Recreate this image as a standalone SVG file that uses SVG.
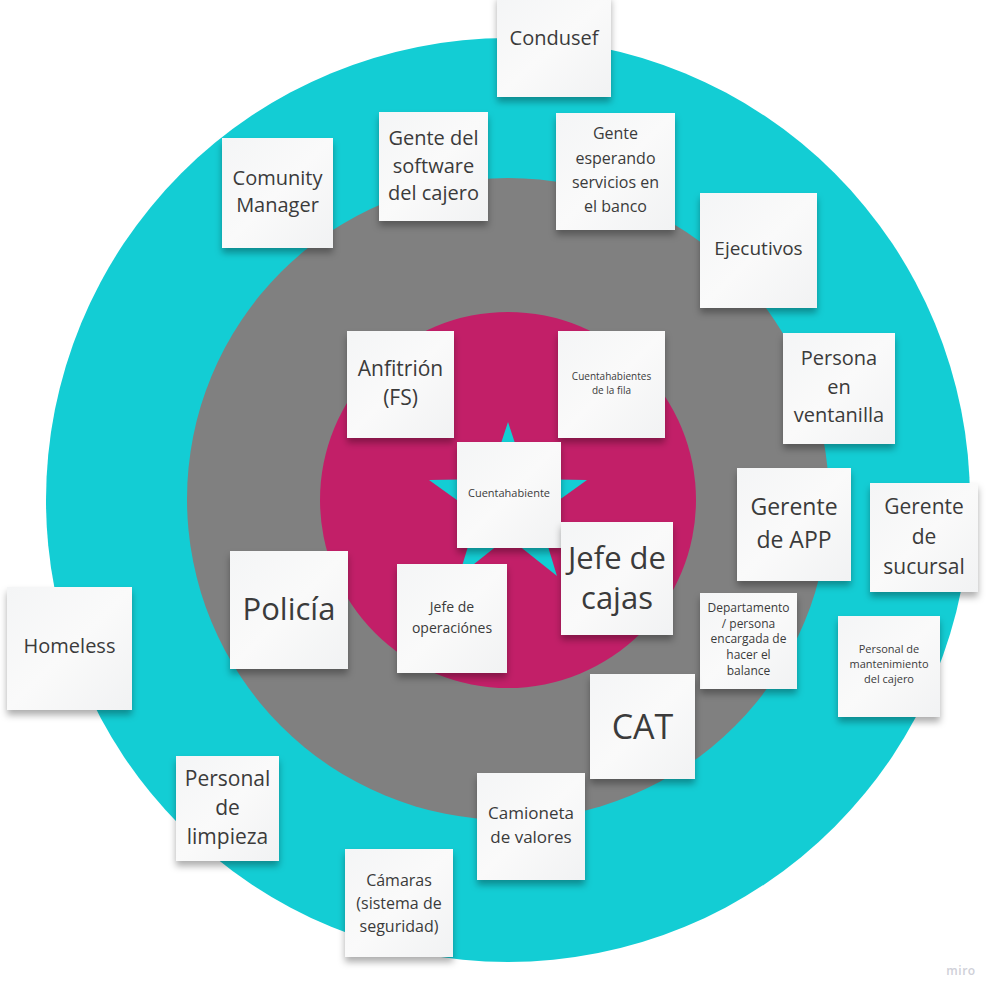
<svg xmlns="http://www.w3.org/2000/svg" width="1000" height="999" viewBox="0 0 1000 999">
<defs>
<filter id="sh" x="-20%" y="-20%" width="140%" height="150%">
<feDropShadow dx="0" dy="5" stdDeviation="3.5" flood-color="#000" flood-opacity="0.32"/>
</filter>
<linearGradient id="ng" x1="0" y1="0" x2="1" y2="1">
<stop offset="0" stop-color="#f4f5f6"/>
<stop offset="0.5" stop-color="#fafafa"/>
<stop offset="1" stop-color="#f1f2f3"/>
</linearGradient>
</defs>
<style>
.note{fill:url(#ng);filter:url(#sh)}
text{font-family:"Open Sans","Noto Sans","Liberation Sans",sans-serif;fill:#3b3b3b;text-anchor:middle}
</style>
<rect width="1000" height="999" fill="#ffffff"/>
<g id="rings">
<circle cx="508" cy="500" r="462" fill="#13cdd4"/>
<circle cx="508" cy="499" r="321" fill="#808080"/>
<circle cx="508" cy="500" r="188" fill="#c21f68"/>
<polygon points="508,422 526.8,479.1 587,480 538.4,514.9 557,576 508,537 459,576 477.6,514.9 429,480 489.2,479.1" fill="#13cdd4"/>
</g>
<g id="connectors"></g>
<g id="n-condusef"><rect class="note" x="497" y="-5" width="114" height="102"/><text font-size="20" x="554" y="45">Condusef</text></g>
<g id="n-comunity"><rect class="note" x="222" y="138" width="111" height="110"/><text font-size="20" x="277.5"><tspan x="277.5" y="185">Comunity</tspan><tspan x="277.5" y="212">Manager</tspan></text></g>
<g id="n-software"><rect class="note" x="379" y="112" width="109" height="109"/><text font-size="20"><tspan x="433.5" y="145">Gente del</tspan><tspan x="433.5" y="173">software</tspan><tspan x="433.5" y="200">del cajero</tspan></text></g>
<g id="n-esperando"><rect class="note" x="556" y="113" width="119" height="117"/><text font-size="16"><tspan x="615.5" y="139">Gente</tspan><tspan x="615.5" y="164">esperando</tspan><tspan x="615.5" y="188">servicios en</tspan><tspan x="615.5" y="212">el banco</tspan></text></g>
<g id="n-ejecutivos"><rect class="note" x="700" y="193" width="117" height="115"/><text font-size="19" x="758.5" y="255">Ejecutivos</text></g>
<g id="n-ventanilla"><rect class="note" x="783" y="333" width="112" height="111"/><text font-size="20"><tspan x="839" y="365">Persona</tspan><tspan x="839" y="394">en</tspan><tspan x="839" y="422">ventanilla</tspan></text></g>
<g id="n-anfitrion"><rect class="note" x="347" y="331" width="107" height="107"/><text font-size="21"><tspan x="400.5" y="376">Anfitrión</tspan><tspan x="400.5" y="405">(FS)</tspan></text></g>
<g id="n-fila"><rect class="note" x="558" y="331" width="107" height="107"/><text font-size="10"><tspan x="611.5" y="380">Cuentahabientes</tspan><tspan x="611.5" y="394">de la fila</tspan></text></g>
<g id="n-cuentahabiente"><rect class="note" x="457" y="442" width="104" height="106"/><text font-size="11" x="509" y="497">Cuentahabiente</text></g>
<g id="n-gerente-app"><rect class="note" x="737" y="468" width="114" height="113"/><text font-size="23"><tspan x="794" y="515">Gerente</tspan><tspan x="794" y="548">de APP</tspan></text></g>
<g id="n-gerente-sucursal"><rect class="note" x="870" y="483" width="108" height="109"/><text font-size="21"><tspan x="924" y="514">Gerente</tspan><tspan x="924" y="544">de</tspan><tspan x="924" y="574">sucursal</tspan></text></g>
<g id="n-jefe-cajas"><rect class="note" x="561" y="522" width="112" height="113"/><text font-size="31"><tspan x="617" y="569">Jefe de</tspan><tspan x="617" y="609">cajas</tspan></text></g>
<g id="n-policia"><rect class="note" x="230" y="551" width="118" height="118"/><text font-size="31" x="289" y="620">Policía</text></g>
<g id="n-jefe-operaciones"><rect class="note" x="397" y="564" width="110" height="109"/><text font-size="14"><tspan x="452" y="612">Jefe de</tspan><tspan x="452" y="633">operaciónes</tspan></text></g>
<g id="n-departamento"><rect class="note" x="700" y="593" width="97" height="96"/><text font-size="12"><tspan x="748.5" y="612">Departamento</tspan><tspan x="748.5" y="628">/ persona</tspan><tspan x="748.5" y="643">encargada de</tspan><tspan x="748.5" y="659">hacer el</tspan><tspan x="748.5" y="675">balance</tspan></text></g>
<g id="n-mantenimiento"><rect class="note" x="838" y="616" width="102" height="101"/><text font-size="11"><tspan x="889" y="653">Personal de</tspan><tspan x="889" y="668">mantenimiento</tspan><tspan x="889" y="683">del cajero</tspan></text></g>
<g id="n-homeless"><rect class="note" x="7" y="587" width="125" height="123"/><text font-size="20" x="69.5" y="653">Homeless</text></g>
<g id="n-cat"><rect class="note" x="590" y="674" width="105" height="105"/><text font-size="34" x="642.5" y="739">CAT</text></g>
<g id="n-limpieza"><rect class="note" x="176" y="756" width="103" height="105"/><text font-size="21"><tspan x="227.5" y="786">Personal</tspan><tspan x="227.5" y="815">de</tspan><tspan x="227.5" y="844">limpieza</tspan></text></g>
<g id="n-camioneta"><rect class="note" x="477" y="773" width="108" height="107"/><text font-size="17"><tspan x="531" y="819">Camioneta</tspan><tspan x="531" y="843">de valores</tspan></text></g>
<g id="n-camaras"><rect class="note" x="345" y="849" width="108" height="108"/><text font-size="16"><tspan x="399" y="886">Cámaras</tspan><tspan x="399" y="909">(sistema de</tspan><tspan x="399" y="932">seguridad)</tspan></text></g>
<text x="961" y="975" font-size="12" style="fill:#cfd0d8;font-weight:600;letter-spacing:0.5px">miro</text>
</svg>
